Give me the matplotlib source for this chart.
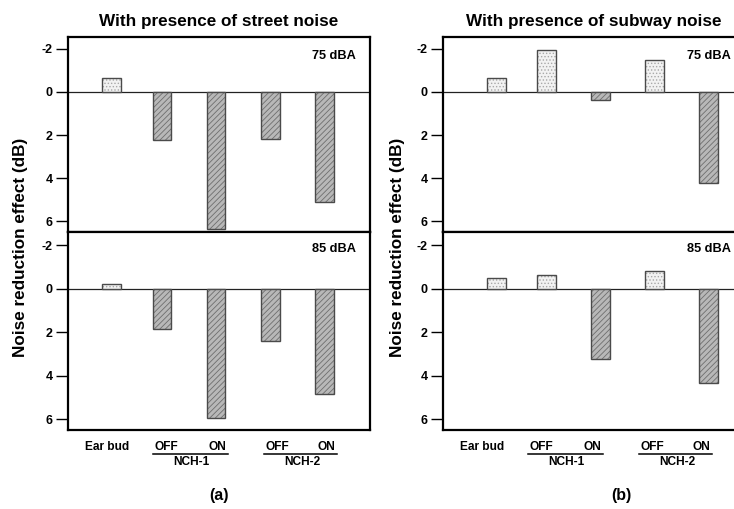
import matplotlib
matplotlib.use("Agg")
import matplotlib.pyplot as plt

plt.rcParams['font.family'] = ['Liberation Sans', 'DejaVu Sans']
plt.rcParams['hatch.linewidth'] = 0.6

# ---------------- data ----------------
categories = ["Ear bud", "OFF", "ON", "OFF", "ON"]
groups = ["NCH-1", "NCH-2"]
street_75 = [-0.67, 2.25, 6.35, 2.17, 5.12]
street_85 = [-0.22, 1.85, 5.95, 2.38, 4.85]
subway_75 = [-0.67, -1.95, 0.37, -1.47, 4.22]
subway_85 = [-0.50, -0.65, 3.25, -0.82, 4.35]
yticks = [-2, 0, 2, 4, 6]
titles = ["With presence of street noise", "With presence of subway noise"]
levels = ["75 dBA", "85 dBA"]
panel_tags = ["(a)", "(b)"]
ylabel = "Noise reduction effect (dB)"

# ---------------- layout ----------------
W, H = 734, 509
fig = plt.figure(figsize=(W / 100, H / 100), dpi=100)

def fax(x0, y0, x1, y1):
    return fig.add_axes([x0 / W, 1 - y1 / H, (x1 - x0) / W, (y1 - y0) / H])

col_left = [68, 443]
ax_w = 302
xpos = [0.07, 1, 2, 3, 4]
xlims = [(-0.74, 4.85), (-0.917, 4.68)]
data = [[street_75, street_85], [subway_75, subway_85]]
rows = [(37, 232, (6.5, -2.55)), (232, 430, (6.5, -2.62))]

label_fx = [0.128, 0.325, 0.493, 0.694, 0.856]
under_fx = [(0.283, 0.530), (0.648, 0.890)]
group_fx = [0.408, 0.776]
tag_fx = [0.5, 0.59]

def draw_bars(ax, vals):
    for x, v in zip(xpos, vals):
        if v < 0:
            fc, hc, hatch = '#f2f2f2', '#a8a8a8', '.....'
        else:
            fc, hc, hatch = '#b8b8b8', '#6e6e6e', '//////'
        ax.bar(x, v, width=0.35, color=fc, edgecolor=hc, hatch=hatch,
               linewidth=0, zorder=2)
        ax.bar(x, v, width=0.35, fill=False, edgecolor='#4a4a4a',
               linewidth=1.0, zorder=3)
    ax.axhline(0, color='#222222', linewidth=0.9, zorder=1)

for c in range(2):
    x0 = col_left[c]
    for r in range(2):
        y0, y1, ylim = rows[r]
        ax = fax(x0, y0, x0 + ax_w, y1)
        draw_bars(ax, data[c][r])
        ax.set_xlim(*xlims[c])
        ax.set_ylim(*ylim)
        ax.set_yticks(yticks)
        ax.set_yticklabels([str(t) for t in yticks], fontweight='bold', fontsize=9)
        ax.set_xticks([])
        ax.tick_params(axis='y', direction='out', length=9, width=1.0, pad=2)
        for s in ax.spines.values():
            s.set_linewidth(1.6)
        ax.text(0.88, 0.905 if r == 0 else 0.913, levels[r], transform=ax.transAxes,
                ha='center', va='center', fontsize=9.2, fontweight='bold')
        if r == 0:
            ax.set_title(titles[c], fontsize=12.3, fontweight='bold', pad=8)
        else:
            tr = ax.transAxes
            for fx, lab in zip(label_fx, categories):
                ax.text(fx, -0.088, lab, transform=tr, ha='center', va='center',
                        fontsize=8.6, fontweight='bold')
            for (ua, ub), g, gx in zip(under_fx, groups, group_fx):
                ax.plot([ua, ub], [-0.122, -0.122], transform=tr, color='black',
                        linewidth=1.1, clip_on=False)
                ax.text(gx, -0.163, g, transform=tr, ha='center', va='center',
                        fontsize=8.6, fontweight='bold')
            ax.text(tag_fx[c], -0.33, panel_tags[c], transform=tr, ha='center',
                    va='center', fontsize=11.5, fontweight='bold')

# y labels
fig.text(21 / W, 1 - 247 / H, ylabel, rotation=90, ha='center', va='center',
         fontsize=12.3, fontweight='bold')
fig.text(397 / W, 1 - 247 / H, ylabel, rotation=90, ha='center', va='center',
         fontsize=12.3, fontweight='bold')

fig.savefig("out.png", dpi=100)
